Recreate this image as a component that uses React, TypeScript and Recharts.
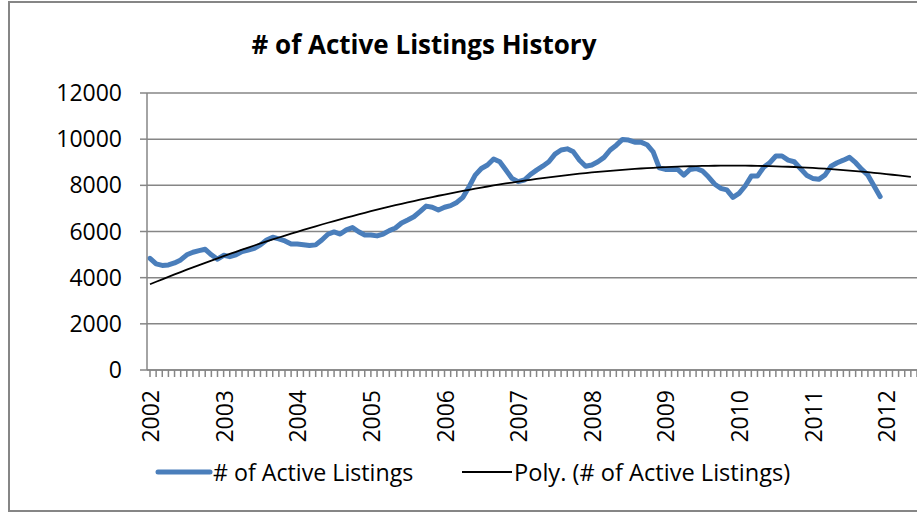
import { CartesianGrid, Line, LineChart, XAxis, YAxis } from 'recharts';

const years = ['2002', '2003', '2004', '2005', '2006', '2007', '2008', '2009', '2010', '2011', '2012'];

// monthly active listings, Jan..Dec
const listings2002 = [4840, 4600, 4530, 4550, 4640, 4770, 4990, 5100, 5170, 5230, 4990, 4800];
const listings2003 = [4970, 4910, 4990, 5130, 5200, 5270, 5420, 5630, 5750, 5680, 5590, 5460];
const listings2004 = [5460, 5430, 5390, 5420, 5630, 5880, 5980, 5890, 6070, 6170, 5990, 5850];
const listings2005 = [5850, 5810, 5890, 6040, 6150, 6370, 6500, 6640, 6860, 7100, 7050, 6930];
const listings2006 = [7050, 7120, 7260, 7480, 7940, 8440, 8730, 8880, 9140, 9020, 8660, 8300];
const listings2007 = [8160, 8230, 8470, 8660, 8830, 9020, 9350, 9530, 9580, 9450, 9090, 8830];
const listings2008 = [8880, 9020, 9210, 9530, 9740, 9990, 9960, 9870, 9870, 9760, 9450, 8760];
const listings2009 = [8690, 8690, 8690, 8440, 8690, 8730, 8630, 8370, 8060, 7870, 7800, 7480];
const listings2010 = [7650, 7970, 8400, 8400, 8780, 8980, 9270, 9270, 9090, 9020, 8730, 8440];
const listings2011 = [8300, 8260, 8440, 8830, 8980, 9090, 9210, 8980, 8690, 8440, 7970, 7510];

const yTicks = [0, 2000, 4000, 6000, 8000, 10000, 12000];

// months on the axis after the last value, and how far the trendline forecasts
const extraMonths = 6;
const forecastMonths = 5;

const listings = [
  ...listings2002, ...listings2003, ...listings2004, ...listings2005, ...listings2006,
  ...listings2007, ...listings2008, ...listings2009, ...listings2010, ...listings2011,
];

// order-2 least squares fit, like Excel's "Poly." trendline
function polyFit(values: number[]) {
  const s = [0, 0, 0, 0, 0];
  const t = [0, 0, 0];
  values.forEach((v, i) => {
    for (let k = 0; k < 5; k++) s[k] += Math.pow(i, k);
    for (let k = 0; k < 3; k++) t[k] += v * Math.pow(i, k);
  });
  const det = (m: number[][]) =>
    m[0][0] * (m[1][1] * m[2][2] - m[1][2] * m[2][1]) -
    m[0][1] * (m[1][0] * m[2][2] - m[1][2] * m[2][0]) +
    m[0][2] * (m[1][0] * m[2][1] - m[1][1] * m[2][0]);
  const M = [
    [s[0], s[1], s[2]],
    [s[1], s[2], s[3]],
    [s[2], s[3], s[4]],
  ];
  const d = det(M);
  return [0, 1, 2].map((col) => {
    const m = M.map((row, r) => row.map((val, c) => (c === col ? t[r] : val)));
    return det(m) / d;
  });
}

const [c0, c1, c2] = polyFit(listings);

const data = Array.from({ length: listings.length + extraMonths }, (_, i) => ({
  month: `${years[Math.floor(i / 12)]}-${(i % 12) + 1}`,
  listings: i < listings.length ? listings[i] : undefined,
  trend: i < listings.length + forecastMonths ? c0 + c1 * i + c2 * i * i : undefined,
}));

const font = '"Open Sans", sans-serif';
const gray = '#868686';

function YearTick(props: any) {
  const { x, y, payload } = props;
  const [year, m] = String(payload.value).split('-');
  if (m !== '1') return <g />;
  return (
    <text
      x={x}
      y={y}
      transform={`rotate(-90 ${x} ${y})`}
      textAnchor="end"
      dominantBaseline="central"
      fontFamily={font}
      fontSize={23}
      fill="#000"
    >
      {year}
    </text>
  );
}

export default function App() {
  return (
    <div style={{ position: 'absolute', left: 0, top: 0, width: 917, height: 512, overflow: 'hidden', background: '#fff' }}>
      <div
        style={{
          position: 'absolute',
          left: 8,
          top: 1,
          width: 1000,
          height: 511,
          boxSizing: 'border-box',
          border: `2px solid ${gray}`,
        }}
      />
      <div style={{ position: 'absolute', left: 0, top: 0 }}>
        <LineChart width={924} height={512} data={data} margin={{ top: 93, right: 4, left: 0, bottom: 42 }}>
          <CartesianGrid vertical={false} stroke={gray} strokeWidth={1.5} />
          <XAxis
            dataKey="month"
            interval={0}
            padding={{ left: 3, right: 3 }}
            height={100}
            tickSize={7}
            tickMargin={13}
            axisLine={{ stroke: gray, strokeWidth: 1.5 }}
            tickLine={{ stroke: gray, strokeWidth: 1.5 }}
            tick={(p: any) => <YearTick {...p} />}
          />
          <YAxis
            domain={[0, 12000]}
            ticks={yTicks}
            width={147}
            tickSize={7}
            tickMargin={18}
            axisLine={{ stroke: gray, strokeWidth: 1.5 }}
            tickLine={{ stroke: gray, strokeWidth: 1.5 }}
            tick={{ fontFamily: font, fontSize: 23, fill: '#000' }}
          />
          <Line
            dataKey="listings"
            stroke="#4a7ebb"
            strokeWidth={5}
            strokeLinecap="round"
            strokeLinejoin="round"
            dot={false}
            isAnimationActive={false}
          />
          <Line dataKey="trend" stroke="#000" strokeWidth={1.8} dot={false} isAnimationActive={false} />
        </LineChart>
      </div>
      <div
        style={{
          position: 'absolute',
          left: 224,
          top: 26,
          width: 400,
          textAlign: 'center',
          fontFamily: font,
          fontWeight: 700,
          fontSize: 26,
          lineHeight: '36px',
        }}
      >
        # of Active Listings History
      </div>
      <svg style={{ position: 'absolute', left: 0, top: 462 }} width={917} height={20}>
        <line x1={158} y1={10} x2={210} y2={10} stroke="#4a7ebb" strokeWidth={5} strokeLinecap="round" />
        <line x1={462} y1={10} x2={512} y2={10} stroke="#000" strokeWidth={1.8} />
      </svg>
      <div style={{ position: 'absolute', left: 213, top: 454, fontFamily: font, fontSize: 23.2, lineHeight: '36px' }}>
        # of Active Listings
      </div>
      <div style={{ position: 'absolute', left: 514, top: 454, fontFamily: font, fontSize: 23.6, lineHeight: '36px' }}>
        Poly. (# of Active Listings)
      </div>
    </div>
  );
}
